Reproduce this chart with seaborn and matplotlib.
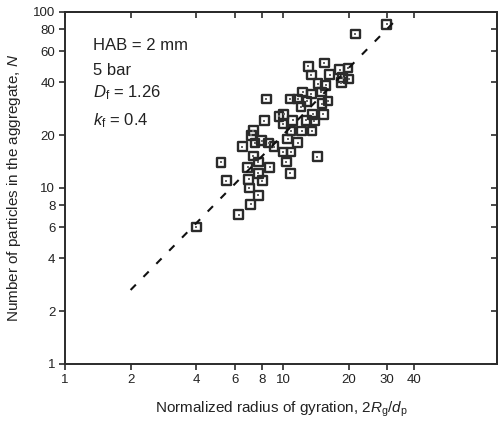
import numpy as np
import pandas as pd
import matplotlib
matplotlib.use("Agg")
import matplotlib.pyplot as plt
import seaborn as sns

# ---- data ----
rg_norm = [29.9, 21.5, 13.05, 15.5, 13.5, 16.4, 18.2, 19.9, 18.8, 20.0,
           18.55, 14.5, 15.7, 12.3, 15.0, 13.5, 10.8, 8.4, 11.7, 12.9,
           15.1, 16.1, 12.1, 10.1, 11.1, 12.8, 13.7, 15.3, 13.95, 8.2,
           10.0, 10.9, 12.2, 13.6, 7.3, 7.15, 7.45, 8.6, 9.1, 10.5,
           11.7, 10.0, 10.9, 14.4, 7.3, 7.7, 10.35, 8.7, 7.7, 10.8,
           8.05, 7.7, 7.1, 5.2, 5.5, 6.5, 6.9, 6.97, 7.0, 6.27,
           4.0, 9.6, 8.0]
n_particles = [85.1, 75.0, 49.2, 51.3, 43.9, 44.1, 47.1, 48.1, 42.4, 41.6,
               39.6, 39.1, 38.3, 35.1, 35.1, 34.2, 32.0, 32.0, 32.0, 31.1,
               30.1, 31.2, 29.0, 26.2, 24.2, 24.2, 26.2, 26.2, 24.0, 24.1,
               23.1, 21.1, 21.1, 21.1, 21.2, 19.95, 18.0, 18.0, 17.2, 19.0,
               18.1, 16.0, 16.0, 15.1, 15.2, 14.05, 14.05, 13.1, 12.1, 12.1,
               11.0, 9.07, 8.07, 14.0, 11.0, 17.2, 13.1, 11.2, 10.0, 7.07,
               6.0, 25.5, 18.6]

# fractal fit line N = c * x^Df
fit_prefactor = 1.1
fit_Df = 1.26
fit_x = [2.0, 34.0]

x_ticks = [1, 2, 4, 6, 8, 10, 20, 30, 40]
y_ticks = [1, 2, 4, 6, 8, 10, 20, 40, 60, 80, 100]

annot_lines = ["HAB = 2 mm", "5 bar", r"$D_\mathrm{f}$ = 1.26", r"$k_\mathrm{f}$ = 0.4"]
annot_y = [0.892, 0.821, 0.759, 0.679]

# ---- style ----
sns.set_style("ticks")
plt.rcParams["font.family"] = ["Liberation Sans", "DejaVu Sans"]
plt.rcParams["mathtext.fontset"] = "custom"
plt.rcParams["mathtext.rm"] = "Liberation Sans"
plt.rcParams["mathtext.it"] = "Liberation Sans:italic"
plt.rcParams["mathtext.bf"] = "Liberation Sans:bold"

ink = "#2b2b2b"

fig = plt.figure(figsize=(4.98, 4.24), dpi=100)
ax = fig.add_axes([65 / 498, 60 / 424, 432 / 498, 352 / 424])
ax.set_xscale("log")
ax.set_yscale("log")

df = pd.DataFrame({"x": rg_norm, "y": n_particles})
sns.scatterplot(data=df, x="x", y="y", marker="s", s=40, color=ink, ax=ax,
                legend=False, zorder=3)
coll = ax.collections[-1]
coll.set_facecolor("none")
coll.set_edgecolor(ink)
coll.set_linewidth(1.7)
sns.scatterplot(data=df, x="x", y="y", marker="s", s=1.2, color="#666666",
                linewidth=0, ax=ax, legend=False, zorder=3)

fx = np.array(fit_x)
line_df = pd.DataFrame({"x": fx, "y": fit_prefactor * fx ** fit_Df})
sns.lineplot(data=line_df, x="x", y="y", color="#111111", lw=1.5,
             dashes=False, ax=ax, zorder=4)
ax.lines[-1].set_dashes((3.6, 5.2))

ax.set_xlim(1, 96)
ax.set_ylim(1, 100)

ax.xaxis.set_major_locator(matplotlib.ticker.FixedLocator(x_ticks))
ax.yaxis.set_major_locator(matplotlib.ticker.FixedLocator(y_ticks))
ax.xaxis.set_minor_locator(matplotlib.ticker.NullLocator())
ax.yaxis.set_minor_locator(matplotlib.ticker.NullLocator())
ax.set_xticklabels([str(v) for v in x_ticks])
ax.set_yticklabels([str(v) for v in y_ticks])
ax.tick_params(axis="both", which="major", direction="out", length=4, width=1.2,
               labelsize=9.5, color=ink, labelcolor="#222222", pad=3)

for sp in ax.spines.values():
    sp.set_visible(True)
    sp.set_linewidth(1.4)
    sp.set_color(ink)

# inward ticks on top and right
top = ax.secondary_xaxis("top")
top.xaxis.set_major_locator(matplotlib.ticker.FixedLocator(x_ticks))
top.xaxis.set_minor_locator(matplotlib.ticker.NullLocator())
top.tick_params(direction="in", length=4, width=1.2, color=ink, labeltop=False)
top.spines["top"].set_linewidth(1.4)
top.spines["top"].set_color(ink)
right = ax.secondary_yaxis("right")
right.yaxis.set_major_locator(matplotlib.ticker.FixedLocator(y_ticks))
right.yaxis.set_minor_locator(matplotlib.ticker.NullLocator())
right.tick_params(direction="in", length=4, width=1.2, color=ink, labelright=False)
right.spines["right"].set_linewidth(1.4)
right.spines["right"].set_color(ink)

ax.set_xlabel(r"Normalized radius of gyration, 2$R_\mathrm{g}$/$d_\mathrm{p}$",
              fontsize=11, color="#222222", labelpad=10)
ax.set_ylabel(r"Number of particles in the aggregate, $N$",
              fontsize=11, color="#222222", labelpad=7)

for txt, yy in zip(annot_lines, annot_y):
    ax.text(0.065, yy, txt, transform=ax.transAxes, fontsize=12,
            va="baseline", ha="left", color="#222222")

fig.savefig("out.png", dpi=100)
